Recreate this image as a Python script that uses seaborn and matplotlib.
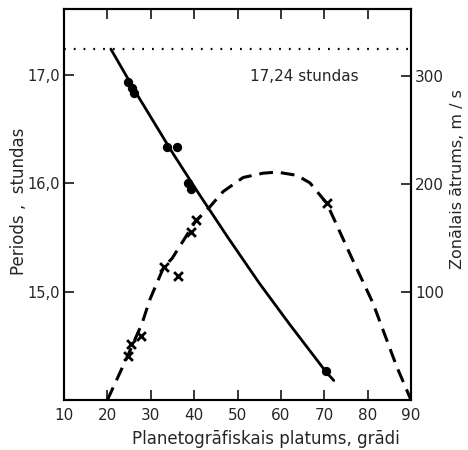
import matplotlib
matplotlib.use("Agg")
import matplotlib.pyplot as plt
import seaborn as sns

# Rotation period measurements (latitude in degrees, period in hours)
period_lat = [24.7, 25.7, 26.1, 33.7, 36.0, 38.6, 39.3, 70.4]
period_hours = [16.94, 16.88, 16.83, 16.34, 16.34, 16.00, 15.95, 14.27]

# Smooth trend through the period measurements
period_fit_lat = [20.8, 27.0, 34.9, 41.0, 47.8, 55.0, 62.0, 70.4, 72.2]
period_fit_hours = [17.24, 16.81, 16.29, 15.91, 15.50, 15.08, 14.70, 14.26, 14.18]

# Zonal wind speed measurements (m/s)
speed_lat = [24.75, 25.45, 27.75, 33.05, 36.3, 39.3, 40.4, 70.6]
speed_ms = [41, 52, 59, 123, 115, 156, 167, 182]

# Zonal wind profile curve
speed_fit_lat = [20.0, 24.7, 28.0, 29.8, 31.7, 33.0, 34.9, 37.9, 40.4, 43.0,
                 46.7, 51.3, 55.9, 59.1, 63.7, 66.7, 70.6, 76.4, 81.2, 86.7, 90.0]
speed_fit_ms = [0, 41, 71, 93, 111, 123, 131, 150, 166, 176,
                193, 206, 210, 211, 208, 201, 182, 131, 90, 31, 0]

# Reference rotation period of the system
system_period = 17.24

x_ticks = [10, 20, 30, 40, 50, 60, 70, 80, 90]
left_ticks = [15.0, 16.0, 17.0]
left_tick_labels = ["15,0", "16,0", "17,0"]
right_ticks = [100, 200, 300]

sns.set_style("ticks")
plt.rcParams["font.family"] = ["DejaVu Sans"]
plt.rcParams["font.size"] = 11

fig = plt.figure(figsize=(4.68, 4.5), dpi=100)
ax = fig.add_axes([64 / 468, 50 / 450, 347 / 468, 391 / 450])
ax2 = ax.twinx()

# Period axis
sns.lineplot(x=period_fit_lat, y=period_fit_hours, ax=ax, color="black",
             linewidth=2.0, sort=False)
sns.scatterplot(x=period_lat, y=period_hours, ax=ax, color="black",
                s=45, marker="o", edgecolor="black", linewidth=0, zorder=3)
ax.axhline(system_period, color="black", linewidth=1.6,
           linestyle=(0, (0.8, 3.6)))
ax.text(78.0, 16.99, "17,24 stundas", ha="right", va="center", fontsize=11)

# Wind speed axis
sns.lineplot(x=speed_fit_lat, y=speed_fit_ms, ax=ax2, color="black",
             linewidth=2.2, sort=False, linestyle=(0, (4.5, 2.6)))
sns.scatterplot(x=speed_lat, y=speed_ms, ax=ax2, color="black",
                s=40, marker="x", linewidth=2.0, zorder=3)

ax.set_xlim(10, 90)
ax.set_ylim(14.0, 17.61)
ax2.set_ylim(0, 362)

ax.set_xticks(x_ticks)
ax.set_xticklabels([str(v) for v in x_ticks])
ax.set_yticks(left_ticks)
ax.set_yticklabels(left_tick_labels)
ax2.set_yticks(right_ticks)
ax2.set_yticklabels([str(v) for v in right_ticks])

for a in (ax, ax2):
    for s in a.spines.values():
        s.set_visible(True)
        s.set_linewidth(1.5)
        s.set_color("black")

ax.tick_params(axis="x", direction="in", length=7, width=1.3, top=True,
               labeltop=False, labelsize=11, pad=6)
ax.tick_params(axis="y", direction="in", length=7, width=1.3, labelsize=10.5, pad=3)
ax2.tick_params(axis="y", direction="in", length=7, width=1.3, labelsize=11, pad=3)

ax.set_xlabel("Planetogrāfiskais platums, grādi", fontsize=12)
ax.xaxis.set_label_coords(0.582, -0.077)
ax.set_ylabel("Periods ,  stundas", fontsize=12)
ax.yaxis.set_label_coords(-0.103, 0.509)
ax2.set_ylabel("Zonālais ātrums, m / s", fontsize=11.5, rotation=90)
ax2.yaxis.set_label_coords(1.113, 0.565)

fig.savefig("out.png", dpi=100)
